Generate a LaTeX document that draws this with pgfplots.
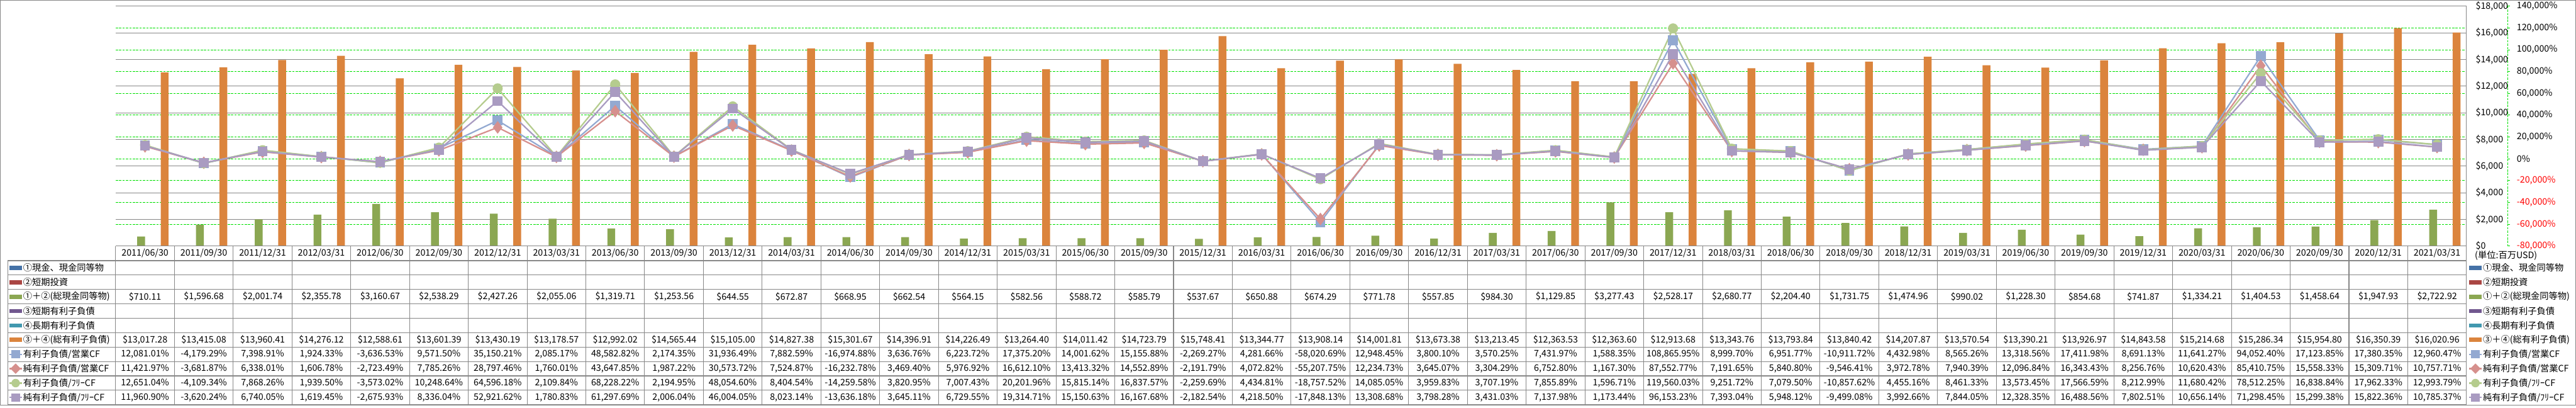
\documentclass[border=0pt]{standalone}
\usepackage{fontspec}
\setmainfont{Noto Sans CJK JP}
\usepackage{pgfplots}
\usepackage{pgfplotstable}
\pgfplotsset{compat=1.18}

\definecolor{axgray}{HTML}{878787}
\definecolor{gridgreen}{HTML}{00E000}
\definecolor{cashgreen}{HTML}{8BA752}
\definecolor{debtorange}{HTML}{DB843D}
\definecolor{c1}{HTML}{4572A7}
\definecolor{c2}{HTML}{AA4643}
\definecolor{c4}{HTML}{71588F}
\definecolor{c5}{HTML}{4198AF}
\definecolor{l1}{HTML}{93A9D1}
\definecolor{l2}{HTML}{D6908D}
\definecolor{l3}{HTML}{B5CC8E}
\definecolor{l4}{HTML}{A99BC1}

% cash = (1)+(2), debt = (3)+(4), r1..r4 = ratios in %
\pgfplotstableread{
idx cash debt r1 r2 r3 r4
1 710.11 13017.28 12081.01 11421.97 12651.04 11960.90
2 1596.68 13415.08 -4179.29 -3681.87 -4109.34 -3620.24
3 2001.74 13960.41 7398.91 6338.01 7868.26 6740.05
4 2355.78 14276.12 1924.33 1606.78 1939.50 1619.45
5 3160.67 12588.61 -3636.53 -2723.49 -3573.02 -2675.93
6 2538.29 13601.39 9571.50 7785.26 10248.64 8336.04
7 2427.26 13430.19 35150.21 28797.46 64596.18 52921.62
8 2055.06 13178.57 2085.17 1760.01 2109.84 1780.83
9 1319.71 12992.02 48582.82 43647.85 68228.22 61297.69
10 1253.56 14565.44 2174.35 1987.22 2194.95 2006.04
11 644.55 15105.00 31936.49 30573.72 48054.60 46004.05
12 672.87 14827.38 7882.59 7524.87 8404.54 8023.14
13 668.95 15301.67 -16974.88 -16232.78 -14259.58 -13636.18
14 662.54 14396.91 3636.76 3469.40 3820.95 3645.11
15 564.15 14226.49 6223.72 5976.92 7007.43 6729.55
16 582.56 13264.40 17375.20 16612.10 20201.96 19314.71
17 588.72 14011.42 14001.62 13413.32 15815.14 15150.63
18 585.79 14723.79 15155.88 14552.89 16837.57 16167.68
19 537.67 15748.41 -2269.27 -2191.79 -2259.69 -2182.54
20 650.88 13344.77 4281.66 4072.82 4434.81 4218.50
21 674.29 13908.14 -58020.69 -55207.75 -18757.52 -17848.13
22 771.78 14001.81 12948.45 12234.73 14085.05 13308.68
23 557.85 13673.38 3800.10 3645.07 3959.83 3798.28
24 984.30 13213.45 3570.25 3304.29 3707.19 3431.03
25 1129.85 12363.53 7431.97 6752.80 7855.89 7137.98
26 3277.43 12363.60 1588.35 1167.30 1596.71 1173.44
27 2528.17 12913.68 108865.95 87552.77 119560.03 96153.23
28 2680.77 13343.76 8999.70 7191.65 9251.72 7393.04
29 2204.40 13793.84 6951.77 5840.80 7079.50 5948.12
30 1731.75 13840.42 -10911.72 -9546.41 -10857.62 -9499.08
31 1474.96 14207.87 4432.98 3972.78 4455.16 3992.66
32 990.02 13570.54 8565.26 7940.39 8461.33 7844.05
33 1228.30 13390.21 13318.56 12096.84 13573.45 12328.35
34 854.68 13926.97 17411.98 16343.43 17566.59 16488.56
35 741.87 14843.58 8691.13 8256.76 8212.99 7802.51
36 1334.21 15214.68 11641.27 10620.43 11680.42 10656.14
37 1404.53 15286.34 94052.40 85410.75 78512.25 71298.45
38 1458.64 15954.80 17123.85 15558.33 16838.84 15299.38
39 1947.93 16350.39 17380.35 15309.71 17962.33 15822.36
40 2722.92 16020.96 12960.47 10757.71 12993.79 10785.37
}\data

\newcommand\tf{\fontsize{4.75pt}{5.5pt}\selectfont}
\pgfkeys{/pgf/number format/tbl/.style={fixed,fixed zerofill,precision=2,1000 sep={,},assume math mode=true}}

% legend glyphs (coordinates in reference pixels)
\newcommand\patch[3]{\fill[#3] (#1,#2-4.5) rectangle ++(26,9);}
\newcommand\sqkey[3]{\draw[#3,line width=0.75pt] (#1,#2)--++(26,0); \fill[#3] (#1+4,#2-9) rectangle ++(18,18);}
\newcommand\dikey[3]{\draw[#3,line width=0.75pt] (#1,#2)--++(26,0); \fill[#3] (#1+13,#2-11)--(#1+24,#2)--(#1+13,#2+11)--(#1+2,#2)--cycle;}
\newcommand\cikey[3]{\draw[#3,line width=0.75pt] (#1,#2)--++(26,0); \fill[#3] (#1+13,#2) circle[radius=9];}
\newcommand\allkeys[2]{%
  \patch{#1}{567.25}{c1}\node[lbl] at (#2,567.25) {①現金、現金同等物};
  \patch{#1}{597.75}{c2}\node[lbl] at (#2,597.75) {②短期投資};
  \patch{#1}{628.25}{cashgreen}\node[lbl] at (#2,628.25) {①＋②(総現金同等物)};
  \patch{#1}{658.75}{c4}\node[lbl] at (#2,658.75) {③短期有利子負債};
  \patch{#1}{689.25}{c5}\node[lbl] at (#2,689.25) {④長期有利子負債};
  \patch{#1}{719.75}{debtorange}\node[lbl] at (#2,719.75) {③＋④(総有利子負債)};
  \sqkey{#1}{750.25}{l1}\node[lbl] at (#2,750.25) {有利子負債/営業CF};
  \dikey{#1}{780.75}{l2}\node[lbl] at (#2,780.75) {純有利子負債/営業CF};
  \cikey{#1}{811.25}{l3}\node[lbl] at (#2,811.25) {有利子負債/ﾌﾘｰCF};
  \sqkey{#1}{841.75}{l4}\node[lbl] at (#2,841.75) {純有利子負債/ﾌﾘｰCF};
}

\pgfplotsset{
  chartbase/.style={
    width=1246pt, height=127pt, scale only axis,
    at={(61.25pt,-130.25pt)}, anchor=south west,
    xmin=0.5, xmax=40.5, clip=false,
    scaled y ticks=false, scaled x ticks=false,
    tick label style={font=\tf, text=black},
    major tick length=0pt,
  },
}

\begin{document}
\begin{tikzpicture}
\begin{scope}[x=0.25pt,y=-0.25pt]
\useasboundingbox (0,0) rectangle (5461,858);
\end{scope}

% percent axis: dashed green grid and labels
\begin{axis}[chartbase,
  ymin=-80000, ymax=140000,
  axis x line*=bottom, axis y line*=right,
  axis line style={draw=none},
  xtick=\empty,
  ytick={-80000,-60000,-40000,-20000,0,20000,40000,60000,80000,100000,120000,140000},
  yticklabels={{\textcolor{red}{-80,000\%}},{\textcolor{red}{-60,000\%}},{\textcolor{red}{-40,000\%}},{\textcolor{red}{-20,000\%}},{0\%},{20,000\%},{40,000\%},{60,000\%},{80,000\%},{100,000\%},{120,000\%},{140,000\%}},
  yticklabel style={anchor=west, inner sep=0pt, xshift=26.5pt},
  ymajorgrids,
  major grid style={draw=gridgreen, line width=0.3pt, dash pattern=on 1.2pt off 0.6pt},
]
\end{axis}

% dollar axis: bars
\begin{axis}[chartbase,
  ymin=0, ymax=18000,
  axis x line*=bottom, axis y line*=right,
  axis line style={draw=axgray, line width=0.35pt},
  xtick={1,...,40},
  xticklabels={2011/06/30,2011/09/30,2011/12/31,2012/03/31,2012/06/30,2012/09/30,2012/12/31,2013/03/31,2013/06/30,2013/09/30,2013/12/31,2014/03/31,2014/06/30,2014/09/30,2014/12/31,2015/03/31,2015/06/30,2015/09/30,2015/12/31,2016/03/31,2016/06/30,2016/09/30,2016/12/31,2017/03/31,2017/06/30,2017/09/30,2017/12/31,2018/03/31,2018/06/30,2018/09/30,2018/12/31,2019/03/31,2019/06/30,2019/09/30,2019/12/31,2020/03/31,2020/06/30,2020/09/30,2020/12/31,2021/03/31},
  xticklabel style={anchor=center, yshift=-3.875pt},
  ytick={0,2000,4000,6000,8000,10000,12000,14000,16000,18000},
  yticklabels={\$0,{\$2,000},{\$4,000},{\$6,000},{\$8,000},{\$10,000},{\$12,000},{\$14,000},{\$16,000},{\$18,000}},
  yticklabel style={anchor=west, inner sep=0pt, xshift=4.75pt},
  ymajorgrids,
  major grid style={draw=axgray, line width=0.35pt},
]
\addplot[ybar, bar width=4.15pt, bar shift=-2.075pt, fill=cashgreen, draw=none] table[x=idx,y=cash]{\data};
\addplot[ybar, bar width=4.15pt, bar shift=10.375pt, fill=debtorange, draw=none] table[x=idx,y=debt]{\data};
\end{axis}

% percent axis: lines
\begin{axis}[chartbase, ymin=-80000, ymax=140000, hide axis]
\addplot[color=l1, line width=0.75pt, mark=square*, mark size=2.25pt, mark options={fill=l1, draw=l1}] table[x=idx,y=r1]{\data};
\addplot[color=l2, line width=0.75pt, mark=diamond*, mark size=2.75pt, mark options={fill=l2, draw=l2}] table[x=idx,y=r2]{\data};
\addplot[color=l3, line width=0.75pt, mark=*, mark size=2.3pt, mark options={fill=l3, draw=l3}] table[x=idx,y=r3]{\data};
\addplot[color=l4, line width=0.75pt, mark=square*, mark size=2.25pt, mark options={fill=l4, draw=l4}] table[x=idx,y=r4]{\data};
\end{axis}

% data table, legend and frame in reference pixel units
\begin{scope}[x=0.25pt, y=-0.25pt, lbl/.style={anchor=west, inner sep=0pt, font=\tf}]
\draw[axgray, line width=0.35pt] (0.5,1) rectangle (5460.5,857.5);
\draw[gridgreen, line width=0.3pt, dash pattern=on 1.2pt off 0.6pt] (5316,13) -- (5316,521);
\foreach \t in {0,...,11} \draw[gridgreen, line width=0.3pt] (5316,521-\t*46.1818) -- ++(5,0);
\begin{scope}[axgray, line width=0.35pt]
\draw (245,521) -- (5229,521);
\foreach \k in {0,...,40} \draw (245+\k*124.6,521) -- (245+\k*124.6,857);
\foreach \j in {0,...,10} \draw (16,552+\j*30.5) -- (5229,552+\j*30.5);
\draw (16,552) -- (16,857);
\end{scope}
\allkeys{20}{48}
\allkeys{5235}{5263}
\node[lbl] at (5246,541) {(単位:百万USD)};
\foreach \i in {0,...,39}{
  \pgfmathsetmacro\cx{245+(\i+0.5)*124.6}
  \pgfplotstablegetelem{\i}{cash}\of\data\let\va\pgfplotsretval
  \node[font=\tf] at (\cx,628.25) {\$\pgfmathprintnumber[tbl]{\va}};
  \pgfplotstablegetelem{\i}{debt}\of\data\let\va\pgfplotsretval
  \node[font=\tf] at (\cx,719.75) {\$\pgfmathprintnumber[tbl]{\va}};
  \pgfplotstablegetelem{\i}{r1}\of\data\let\va\pgfplotsretval
  \node[font=\tf] at (\cx,750.25) {\pgfmathprintnumber[tbl]{\va}\%};
  \pgfplotstablegetelem{\i}{r2}\of\data\let\va\pgfplotsretval
  \node[font=\tf] at (\cx,780.75) {\pgfmathprintnumber[tbl]{\va}\%};
  \pgfplotstablegetelem{\i}{r3}\of\data\let\va\pgfplotsretval
  \node[font=\tf] at (\cx,811.25) {\pgfmathprintnumber[tbl]{\va}\%};
  \pgfplotstablegetelem{\i}{r4}\of\data\let\va\pgfplotsretval
  \node[font=\tf] at (\cx,841.75) {\pgfmathprintnumber[tbl]{\va}\%};
}
\end{scope}
\end{tikzpicture}
\end{document}
